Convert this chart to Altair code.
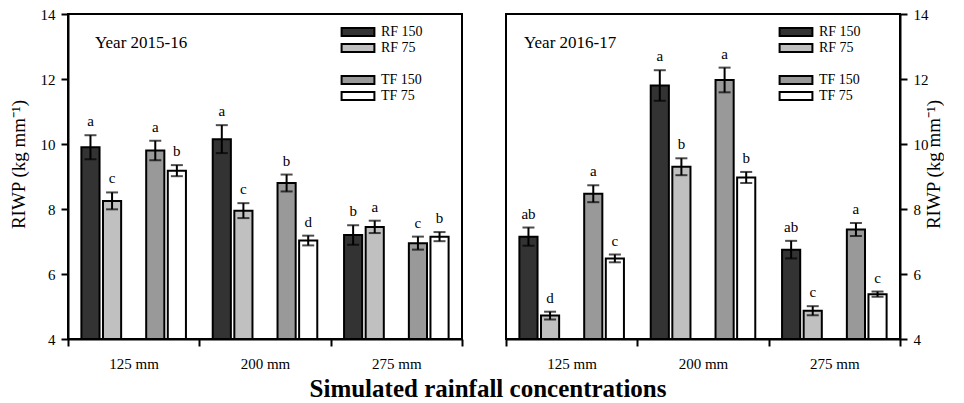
import altair as alt
import pandas as pd

groups = ["125 mm", "200 mm", "275 mm"]
series = ["RF 150", "RF 75", "TF 150", "TF 75"]
years = ["Year 2015-16", "Year 2016-17"]

v1516 = [9.90, 8.25, 9.80, 9.18, 10.15, 7.95, 8.80, 7.03, 7.20, 7.45, 6.95, 7.15]
e1516 = [0.37, 0.26, 0.30, 0.17, 0.43, 0.23, 0.26, 0.15, 0.30, 0.19, 0.20, 0.14]
l1516 = ["a", "c", "a", "b", "a", "c", "b", "d", "b", "a", "c", "b"]

v1617 = [7.15, 4.72, 8.47, 6.48, 11.80, 9.30, 11.97, 8.97, 6.75, 4.87, 7.37, 5.38]
e1617 = [0.28, 0.12, 0.26, 0.12, 0.47, 0.26, 0.38, 0.17, 0.27, 0.14, 0.20, 0.08]
l1617 = ["ab", "d", "a", "c", "a", "b", "a", "b", "ab", "c", "a", "c"]

domain = ["RF 150", "RF 75", "_1", "TF 150", "TF 75"]
fill_range = ["#333333", "#c0c0c0", "#ffffff", "#999999", "#ffffff"]
stroke_range = ["#000000", "#000000", "transparent", "#000000", "#000000"]

FONT = "Liberation Serif"


def make_df(values, errs, letters):
    rows = []
    i = 0
    for g in groups:
        for s in series:
            rows.append({"group": g, "series": s, "value": values[i],
                         "err": errs[i], "letter": letters[i]})
            i += 1
    return pd.DataFrame(rows)


def panel(df, title, tx, ty, orient):
    yaxis = alt.Axis(
        orient=orient, values=[4, 6, 8, 10, 12, 14], title="RIWP (kg mm\u207b\u00b9)",
        titleFont=FONT, titleFontSize=19, titleFontWeight="normal", titleColor="black",
        labelFont=FONT, labelFontSize=15, labelColor="black", labelPadding=6,
        tickSize=7, tickWidth=2, tickColor="black", domainColor="black", domainWidth=2,
        grid=False, titlePadding=(15 if orient == "right" else 12), titleY=150,
        **({"titleAngle": 270} if orient == "right" else {}),
    )
    xaxis = alt.Axis(
        title=None, tickBand="extent", labelAngle=0, labelFont=FONT, labelFontSize=15,
        labelColor="black", labelPadding=10, tickSize=7, tickWidth=2, tickColor="black",
        domainColor="black", domainWidth=2, grid=False,
    )
    x = alt.X("group:N", scale=alt.Scale(domain=groups, paddingInner=0, paddingOuter=0), axis=xaxis)
    xo = alt.XOffset("series:N", scale=alt.Scale(domain=domain, paddingInner=0.16, paddingOuter=0.62))
    yscale = alt.Scale(domain=[4, 14], nice=False, zero=False)

    base = alt.Chart(df).transform_calculate(
        upper="datum.value + datum.err", lower="datum.value - datum.err"
    )
    legend = alt.Legend(
        title=None, orient="none", legendX=283, legendY=11, padding=0,
        symbolType="M-5.47,-1.33H5.47V1.33H-5.47Z", symbolSize=36,
        symbolStrokeWidth=2, labelFont=FONT, labelColor="black",
        labelFontSize={"expr": "datum.value === '_1' ? 8 : 14"},
        labelOffset=16, rowPadding=0,
        labelExpr="slice(datum.label, 0, 1) == '_' ? '' : datum.label",
    )
    bars = base.mark_bar(strokeWidth=2).encode(
        x=x, xOffset=xo,
        y=alt.Y("value:Q", scale=yscale, axis=yaxis),
        y2=alt.datum(4),
        color=alt.Color("series:N", scale=alt.Scale(domain=domain, range=fill_range), legend=legend),
        stroke=alt.Stroke("series:N", scale=alt.Scale(domain=domain, range=stroke_range), legend=legend),
    )
    rule = base.mark_rule(color="black", strokeWidth=2).encode(
        x=x, xOffset=xo, y=alt.Y("lower:Q", scale=yscale), y2="upper:Q"
    )
    cap_hi = base.mark_tick(color="black", thickness=2, size=12).encode(
        x=x, xOffset=xo, y=alt.Y("upper:Q", scale=yscale)
    )
    cap_lo = base.mark_tick(color="black", thickness=2, size=12).encode(
        x=x, xOffset=xo, y=alt.Y("lower:Q", scale=yscale)
    )
    letters = base.mark_text(dy=-6, baseline="bottom", font=FONT, fontSize=15, color="black").encode(
        x=x, xOffset=xo, y=alt.Y("upper:Q", scale=yscale), text="letter:N"
    )
    ttl = alt.Chart(pd.DataFrame({"t": [title]})).mark_text(
        align="left", baseline="alphabetic", font=FONT, fontSize=17, color="black"
    ).encode(x=alt.value(tx), y=alt.value(ty), text="t:N")

    return alt.layer(bars, rule, cap_hi, cap_lo, letters, ttl).properties(width=394, height=325)


left = panel(make_df(v1516, e1516, l1516), years[0], 27, 34, "left")
right = panel(make_df(v1617, e1617, l1617), years[1], 18, 34, "right")

chart = alt.hconcat(left, right, spacing=40).resolve_scale(
    color="independent", stroke="independent", x="independent", y="independent"
).resolve_legend(color="independent", stroke="independent").properties(
    title=alt.TitleParams(
        "Simulated rainfall concentrations", orient="bottom", anchor="middle",
        font=FONT, fontSize=25, fontWeight="bold", color="black", offset=5, dx=12,
    ),
    padding={"left": 0, "top": -2, "right": 0, "bottom": 0},
).configure(font=FONT).configure_view(stroke="black", strokeWidth=2)

chart.save("out.html", embed_options={"renderer": "svg", "actions": False})
